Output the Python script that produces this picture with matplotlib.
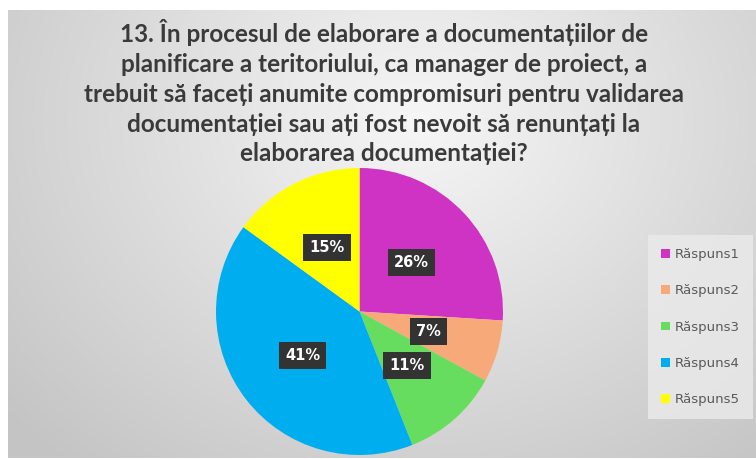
import numpy as np
import matplotlib.pyplot as plt
from matplotlib.patches import Patch

title = ("13. În procesul de elaborare a documentațiilor de\n"
         "planificare a teritoriului, ca manager de proiect, a\n"
         "trebuit să faceți anumite compromisuri pentru validarea\n"
         "documentației sau ați fost nevoit să renunțați la\n"
         "elaborarea documentației?")
labels = ["Răspuns1", "Răspuns2", "Răspuns3", "Răspuns4", "Răspuns5"]
values = [26, 7, 11, 41, 15]
colors = ["#cf33c4", "#f7a97a", "#66dd5e", "#00aeef", "#ffff00"]

W, H = 756, 459
fig = plt.figure(figsize=(W / 100, H / 100), dpi=100)
fig.patch.set_facecolor("white")

# grey radial backdrop of the chart area
bg = fig.add_axes([8 / W, 1 / H, 748 / W, 448 / H])
yy, xx = np.mgrid[0:448, 0:748]
d = np.hypot((xx - 410) / 560, (yy - 110) / 460)
shade = np.clip(0.965 - 0.2 * d, 0.77, 0.965)
bg.imshow(np.dstack([shade] * 3), aspect="auto", interpolation="bilinear")
bg.set_axis_off()

fig.text(384 / W, 1 - 19 / H, title, ha="center", va="top",
         fontsize=17.5, fontweight="bold", color="#3a3a3a",
         family=["Lato", "DejaVu Sans"], linespacing=1.36)

# pie
R = 143.5
cx, cy = 359.5, 311.5
ax = fig.add_axes([(cx - R) / W, (H - cy - R) / H, 2 * R / W, 2 * R / H])
wedges, _, autotexts = ax.pie(
    values, colors=colors, startangle=90, counterclock=False,
    autopct="%d%%", pctdistance=0.5, radius=1,
    wedgeprops=dict(linewidth=0),
    textprops=dict(color="white", fontsize=10.5, fontweight="bold"))
for t in autotexts:
    t.set_bbox(dict(boxstyle="square,pad=0.42", facecolor="#333333",
                    edgecolor="none"))
ax.set_xlim(-1, 1)
ax.set_ylim(-1, 1)
ax.set_axis_off()

handles = [Patch(facecolor=c, edgecolor="none") for c in colors]
leg = fig.legend(handles, labels, loc="upper left",
                 bbox_to_anchor=(648 / W, 1 - 235 / H),
                 frameon=True, fontsize=9.5, labelspacing=1.76,
                 handlelength=0.65, handleheight=0.65, handletextpad=0.35,
                 borderpad=1.0, borderaxespad=0, fancybox=False)
leg.get_frame().set_facecolor("#ebebeb")
leg.get_frame().set_edgecolor("none")
for t in leg.get_texts():
    t.set_color("#595959")

fig.savefig("out.png", dpi=100)
